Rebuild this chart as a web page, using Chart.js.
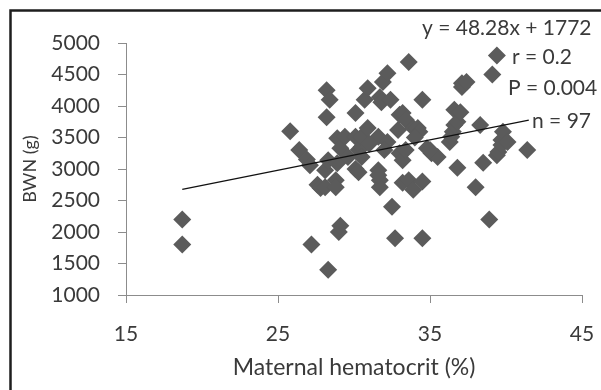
<!DOCTYPE html>
<html>
<head>
<meta charset="utf-8">
<script src="https://cdn.jsdelivr.net/npm/chart.js@4.4.1/dist/chart.umd.min.js"></script>
<style>
  html, body { margin: 0; padding: 0; background: #fff; }
  #wrap { position: relative; width: 601px; height: 390px; }
</style>
</head>
<body>
<div id="wrap"><canvas id="chart" width="601" height="390"></canvas></div>
<script>
// maternal hematocrit (%) and birth weight of newborn (g)
var hematocrit = [18.7, 18.7, 25.8, 26.4, 26.9, 27.1, 27.2, 27.6, 27.8, 28.1,
  28.1, 28.2, 28.4, 28.2, 28.3, 28.3, 28.8, 28.8, 28.9, 28.9,
  29.0, 29.1, 29.1, 29.4, 29.6, 30.1, 30.1, 30.1, 30.3, 30.3,
  30.5, 30.5, 30.5, 30.7, 30.9, 30.9, 31.6, 31.6, 31.7, 31.7,
  31.6, 31.7, 31.8, 31.9, 32.2, 32.2, 32.4, 32.5, 32.7, 32.9,
  33.0, 33.0, 33.2, 33.2, 33.2, 33.4, 33.4, 33.6, 33.6, 33.9,
  33.9, 34.2, 34.3, 34.5, 34.5, 34.5, 34.8, 35.1, 35.5, 36.3,
  36.4, 36.5, 36.6, 36.6, 36.8, 36.8, 37.0, 37.1, 37.1, 37.4,
  38.0, 38.3, 38.5, 38.9, 39.1, 39.4, 39.4, 39.5, 39.7, 39.7,
  39.8, 40.1, 41.4, 34.0, 35.0, 32.0, 31.0];
var bwn = [2200, 1800, 3600, 3300, 3150, 3060, 1800, 2750, 2700, 2710,
  2980, 4250, 4100, 3820, 1400, 3140, 2820, 2710, 3490, 3090,
  2000, 2100, 3330, 3510, 3190, 3890, 3510, 3000, 2950, 3300,
  3350, 3190, 3510, 4100, 4280, 3650, 3510, 2980, 2820, 2710,
  2900, 4140, 4060, 4380, 4520, 3430, 4100, 2400, 1900, 3620,
  3860, 3250, 3890, 3140, 2780, 3780, 3300, 4700, 2820, 2670,
  3650, 3650, 3590, 4100, 2800, 1900, 3330, 3250, 3190, 3430,
  3510, 3590, 3700, 3940, 3750, 3020, 3900, 4300, 4360, 4380,
  2710, 3700, 3100, 2200, 4500, 4800, 3220, 3270, 3460, 3380,
  3590, 3430, 3300, 3500, 3300, 3300, 3400];

// linear trendline printed on the chart
var slope = 48.28;
var intercept = 1772;
var trendX = [18.7, 41.5];

var xTicks = [15, 25, 35, 45];
var statLines = ['y = 48.28x + 1772', 'r = 0.2', 'P = 0.004', 'n = 97'];

var textColor = '#3a3a3a';
var axisColor = '#8c8c8c';

var points = hematocrit.map(function (h, i) { return { x: h, y: bwn[i] }; });
var trend = trendX.map(function (x) { return { x: x, y: slope * x + intercept }; });

var extras = {
  id: 'extras',
  afterDraw: function (chart) {
    var ctx = chart.ctx;
    ctx.save();
    // frame of the original figure
    ctx.strokeStyle = '#1e1e1e';
    ctx.lineWidth = 2.5;
    ctx.beginPath();
    ctx.moveTo(10.5, 400);
    ctx.lineTo(10.5, 10.5);
    ctx.lineTo(610, 10.5);
    ctx.stroke();
    // trendline label
    ctx.fillStyle = textColor;
    ctx.font = '21px Lato';
    ctx.textBaseline = 'middle';
    ctx.textAlign = 'left';
    var lx = [422, 512, 508, 532];
    var ly = [28, 57, 88, 121];
    statLines.forEach(function (s, i) { ctx.fillText(s, lx[i], ly[i]); });
    ctx.restore();
  }
};

var ctx = document.getElementById('chart').getContext('2d');
var myChart = new Chart(ctx, {
  type: 'scatter',
  data: {
    datasets: [{
      data: points,
      pointStyle: 'rectRot',
      pointRadius: 9,
      pointBackgroundColor: '#5b5b5b',
      pointBorderColor: '#5b5b5b',
      pointBorderWidth: 0,
      order: 2
    }, {
      type: 'line',
      data: trend,
      borderColor: '#111',
      borderWidth: 1.3,
      pointRadius: 0,
      fill: false,
      order: 1
    }]
  },
  options: {
    responsive: false,
    animation: false,
    layout: { padding: { top: 43, right: 19, left: 0, bottom: 0 } },
    plugins: { legend: { display: false }, tooltip: { enabled: false } },
    scales: {
      x: {
        type: 'linear',
        min: 15,
        max: 45,
        afterBuildTicks: function (axis) { axis.ticks = xTicks.map(function (v) { return { value: v }; }); },
        afterFit: function (axis) {
          axis.height = 95;
          axis.paddingLeft = 0;
          axis.paddingRight = 0;
        },
        grid: { display: true, drawOnChartArea: false, drawTicks: true, tickLength: 8, color: axisColor },
        border: { display: true, color: axisColor, width: 1 },
        ticks: { color: textColor, font: { family: 'Lato', size: 21 }, padding: 19, maxRotation: 0 },
        title: {
          display: true,
          text: 'Maternal hematocrit (%)',
          color: textColor,
          font: { family: 'Lato', size: 23 },
          padding: { top: 0, bottom: 9 }
        }
      },
      y: {
        min: 1000,
        max: 5000,
        ticks: {
          stepSize: 500,
          color: textColor,
          font: { family: 'Lato', size: 21 },
          padding: 18,
          callback: function (v) { return String(v); }
        },
        afterFit: function (axis) { axis.width = 126; },
        grid: { display: true, drawOnChartArea: false, drawTicks: true, tickLength: 8, color: axisColor },
        border: { display: true, color: axisColor, width: 1 },
        title: {
          display: true,
          text: 'BWN (g)',
          color: textColor,
          font: { family: 'Lato', size: 18 },
          padding: { top: 19, bottom: 0 }
        }
      }
    }
  },
  plugins: [extras]
});
</script>
</body>
</html>
